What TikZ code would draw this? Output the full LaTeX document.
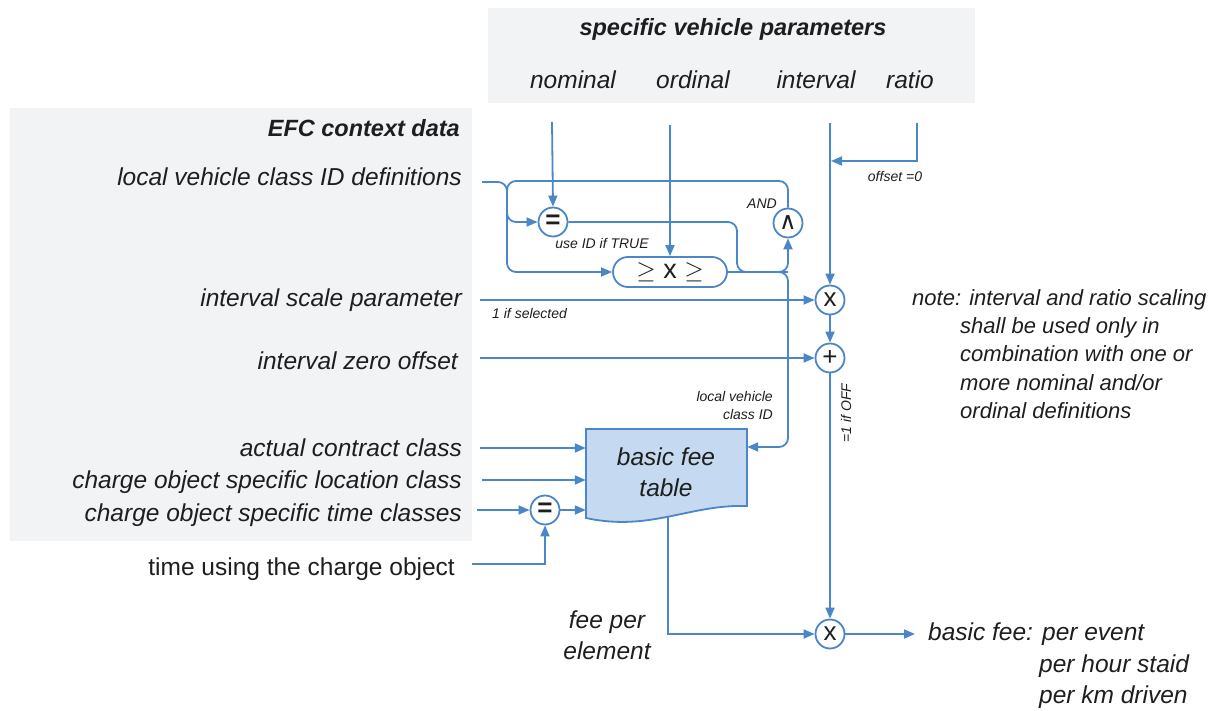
\documentclass[tikz,border=0pt]{standalone}
\usepackage{fontspec}
\setmainfont{Liberation Sans}
\newfontfamily\symfont{DejaVu Sans}
\usetikzlibrary{arrows.meta,calc}
\definecolor{lblue}{RGB}{74,134,200}
\definecolor{panel}{RGB}{242,243,245}
\definecolor{tblfill}{RGB}{197,217,240}
\definecolor{ink}{RGB}{30,30,30}
\begin{document}
\begin{tikzpicture}[x=1pt,y=-1pt,
  wire/.style={draw=lblue,line width=1.8pt,rounded corners=9pt},
  arr/.style={wire,-{Triangle[length=11pt,width=9pt]}},
  op/.style={circle,draw=lblue,line width=1.8pt,fill=white,minimum size=29pt,
    inner sep=0pt,text=ink,font=\fontsize{26}{26}\selectfont},
  lbl/.style={font=\fontsize{24.5}{24.5}\selectfont\itshape,text=ink,inner sep=0pt,
    text height=17pt,text depth=5pt},
  lblr/.style={lbl,anchor=east},
  lbll/.style={lbl,anchor=west},
  head/.style={lbl,font=\fontsize{23.5}{23.5}\selectfont\bfseries\itshape},
  small/.style={font=\fontsize{14}{18}\selectfont\itshape,text=ink,inner sep=0pt},
  note/.style={font=\fontsize{22}{22}\selectfont\itshape,text=ink,inner sep=0pt,
    text height=16pt,text depth=5pt,anchor=west},
]
\useasboundingbox (0,0) rectangle (1218,711);

% grey panels for the two groups of inputs
\fill[panel] (488,8) rectangle (975,103);
\fill[panel] (10,108) rectangle (472,541);

% vehicle parameter headings
\node[head] (svp) at (733,30) {specific vehicle parameters};
\node[lbl] (nom) at (573,83) {nominal};
\node[lbl] (ord) at (693,83) {ordinal};
\node[lbl] (intv) at (816,83) {interval};
\node[lbl] (rat) at (910,83) {ratio};

% context data labels
\node[head,anchor=east] (efc) at (460,131) {EFC context data};
\node[lblr] (lvc) at (462,180) {local vehicle class ID definitions};
\node[lblr] (isp) at (462,300) {interval scale parameter};
\node[lblr] (izo) at (458,363) {interval zero offset};
\node[lblr] (acc) at (462,450) {actual contract class};
\node[lblr] (loc) at (462,482) {charge object specific location class};
\node[lblr] (tcl) at (462,515) {charge object specific time classes};
\node[lblr,font=\fontsize{24.5}{24.5}\selectfont\upshape] (tuse) at (455,569) {time using the charge object};

% operators
\node[op] (eqa) at (553,222) {\textbf{=}};
\node[op,font=\fontsize{24}{24}\symfont] (andg) at (788,223) {∧};
\node[draw=lblue,line width=1.8pt,rounded corners=15pt,minimum width=114pt,
  minimum height=30pt,inner sep=0pt,fill=white,text=ink,
  font=\fontsize{27}{27}\selectfont] (cmp) at (670,272) {$\geq$ x $\geq$};
\node[op] (mula) at (830,300) {x};
\node[op] (plus) at (830,358) {+};
\node[op] (mulb) at (830,634) {x};
\node[op] (eqb) at (545,510) {\textbf{=}};

% basic fee table (document shape)
\draw[lblue,line width=1.8pt,fill=tblfill] (586,429) -- (747,429) -- (747,506)
  .. controls (690,504) and (650,532) .. (586,518) -- cycle;
\node[inner sep=0pt,minimum width=161pt,minimum height=77pt] (tbl) at (666.5,467.5) {};
\node[font=\fontsize{24.5}{31}\selectfont\itshape,text=ink,align=center,inner sep=0pt]
  (tbltxt) at (666,472) {basic fee\\table};

% free ends of the connectors
\coordinate (lvcS) at (482,182);
\coordinate (nomS) at (552,122);
\coordinate (ordS) at (670,125);
\coordinate (intS) at (830,123);
\coordinate (ratS) at (917,123);
\coordinate (ratJ) at (831,161);
\coordinate (ispS) at (480,300);
\coordinate (izoS) at (480,358);
\coordinate (accS) at (480,448);
\coordinate (locS) at (482,480);
\coordinate (tclS) at (477,510);
\coordinate (tuseS) at (472,564);
\coordinate (tblB) at (668,517);
\coordinate (outE) at (915,634);

% class ID selection logic
\draw[arr] (lvcS) -- (507,182) -- (507,272) -- (cmp.west);
\draw[arr] (507,200) -- (507,222) -- (eqa.west);
\draw[wire] (507,200) -- (507,181) -- (788,181) -- (andg.north);
\draw[arr] (nomS) -- (eqa.north);
\draw[arr] (ordS) -- (cmp.north);
\draw[wire] (eqa.east) -- (737,222) -- (737,272) -- (788,272);
\draw[arr] (cmp.east) -- (788,272) -- (andg.south);
\draw[arr] (cmp.east) -- (788,272) -- (788,447) [sharp corners] -- (tbl.east |- 788,447);

% interval / ratio scaling chain
\draw[arr] (intS) -- (mula.north);
\draw[arr,sharp corners] (ratS) -- (917,161) -- (ratJ);
\draw[arr] (ispS) -- (mula.west);
\draw[arr] (izoS) -- (plus.west);
\draw[arr] (mula) -- (plus);
\draw[arr] (plus) -- (mulb);

% table inputs
\draw[arr] (accS) -- (tbl.west |- accS);
\draw[arr] (locS) -- (tbl.west |- locS);
\draw[arr] (tclS) -- (eqb.west);
\draw[arr] (eqb.east) -- (tbl.west |- eqb);
\draw[arr,sharp corners] (tuseS) -- (545,564) -- (eqb.south);

% output
\draw[arr,sharp corners] (tblB) -- (668,634) -- (mulb.west);
\draw[arr] (mulb.east) -- (outE);

% small annotations
\node[small] (useid) at (602,243) {use ID if TRUE};
\node[small] (andl) at (762,204) {AND};
\node[small] (offl) at (895,176) {offset =0};
\node[small,anchor=west] (sell) at (492,313) {1 if selected};
\node[small,align=right,anchor=east] (lvid) at (773,405) {local vehicle\\class ID};
\node[small,rotate=90] (offon) at (846,413) {=1 if OFF};

% fee per element and result
\node[font=\fontsize{24.5}{31}\selectfont\itshape,text=ink,align=center,inner sep=0pt]
  (fpe) at (607,635) {fee per\\element};
\node[lbll] (bf1) at (928,634) {basic fee: per event};
\node[lbll] (bf2) at (1039,666) {per hour staid};
\node[lbll] (bf3) at (1039,697) {per km driven};

% note on scaling
\node[note] (n1) at (912,300) {note: interval and ratio scaling};
\node[note] (n2) at (960,328) {shall be used only in};
\node[note] (n3) at (960,356) {combination with one or};
\node[note] (n4) at (960,385) {more nominal and/or};
\node[note] (n5) at (960,413) {ordinal definitions};
\end{tikzpicture}
\end{document}
